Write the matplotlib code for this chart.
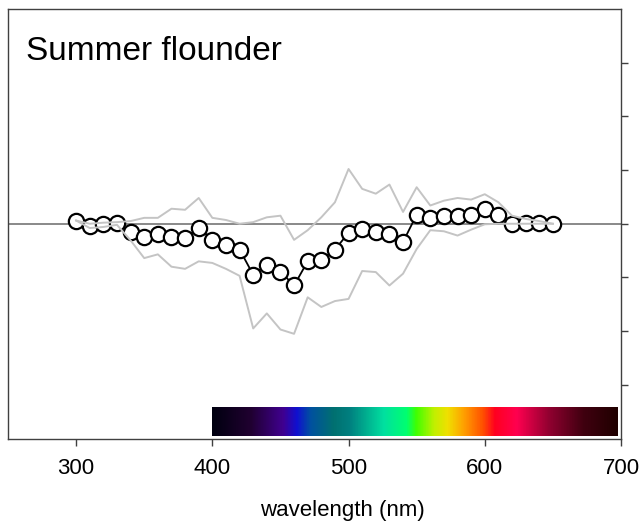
import numpy as np
import matplotlib
matplotlib.use('Agg')
import matplotlib.pyplot as plt
from matplotlib.colors import LinearSegmentedColormap

plt.rcParams['font.family'] = ['Liberation Sans', 'DejaVu Sans']

# Data
wavelength = [300, 310, 320, 330, 340, 350, 360, 370, 380, 390,
              400, 410, 420, 430, 440, 450, 460, 470, 480, 490,
              500, 510, 520, 530, 540, 550, 560, 570, 580, 590,
              600, 610, 620, 630, 640, 650]
mean = [0.06, -0.04, 0.00, 0.01, -0.15, -0.25, -0.20, -0.24, -0.27, -0.07,
        -0.30, -0.39, -0.48, -0.95, -0.76, -0.89, -1.15, -0.70, -0.67, -0.48,
        -0.17, -0.09, -0.16, -0.20, -0.34, 0.17, 0.11, 0.15, 0.14, 0.16,
        0.27, 0.17, 0.00, 0.02, 0.02, 0.00]
upper = [0.06, 0.00, 0.02, 0.03, 0.05, 0.11, 0.11, 0.28, 0.26, 0.48,
         0.11, 0.07, 0.00, 0.03, 0.12, 0.15, -0.30, -0.12, 0.12, 0.40,
         1.02, 0.65, 0.56, 0.73, 0.22, 0.68, 0.34, 0.43, 0.48, 0.45,
         0.55, 0.40, 0.15, 0.09, 0.05, 0.00]
lower = [0.06, -0.08, -0.06, -0.02, -0.31, -0.64, -0.57, -0.80, -0.84, -0.70,
         -0.73, -0.84, -0.97, -1.95, -1.67, -1.97, -2.05, -1.37, -1.55, -1.44,
         -1.40, -0.88, -0.90, -1.15, -0.93, -0.47, -0.12, -0.14, -0.22, -0.11,
         -0.01, 0.00, 0.00, 0.00, 0.00, 0.00]

# spectrum colours for the bar under the plot
spec_nm = [400, 428, 452, 462, 472, 489, 501, 526, 543, 550, 563, 573,
           585, 599, 608, 624, 648, 673, 698]
spec_col = ['#000010', '#200030', '#400090', '#1010d0', '#0050a0', '#007070',
            '#008080', '#00e0a0', '#00ff70', '#40ff00', '#c0f000', '#f0e000',
            '#ffa000', '#ff5000', '#ff0020', '#ff0050', '#900030', '#400010',
            '#200000']

fig = plt.figure(figsize=(6.41, 5.27), dpi=100)
ax = fig.add_axes([8 / 641, 1 - 438.5 / 527, 613 / 641, 429.5 / 527])

ax.axhline(0, color='#808080', lw=1.3, zorder=1)
ax.plot(wavelength, mean, color='black', lw=1.3, marker='o', ms=11,
        mfc='white', mec='black', mew=1.6, zorder=3)
ax.plot(wavelength, upper, color='#c4c4c4', lw=1.4, zorder=4)
ax.plot(wavelength, lower, color='#c4c4c4', lw=1.4, zorder=4)

# colour bar
lo, hi = spec_nm[0], spec_nm[-1]
cmap = LinearSegmentedColormap.from_list(
    'spec', [((n - lo) / (hi - lo), c) for n, c in zip(spec_nm, spec_col)])
grad = np.linspace(0, 1, 512).reshape(1, -1)
ax.imshow(grad, cmap=cmap, aspect='auto', extent=[lo, hi, -3.95, -3.42],
          zorder=2)

ax.set_xlim(250, 700)
ax.set_ylim(-4, 4)
ax.set_xticks([300, 400, 500, 600, 700])
ax.set_yticks([-3, -2, -1, 0, 1, 2, 3])
ax.yaxis.tick_right()
ax.tick_params(axis='y', labelright=False, length=5, width=1, color='#404040')
ax.tick_params(axis='x', labelsize=16, length=5, width=1, pad=9,
               color='#404040')
for s in ax.spines.values():
    s.set_color('#404040')
    s.set_linewidth(1.0)

ax.set_xlabel('wavelength (nm)', fontsize=16)
ax.xaxis.set_label_coords(0.546, -0.143)
ax.text(0.029, 0.882, 'Summer flounder', transform=ax.transAxes,
        fontsize=24, va='baseline', ha='left')

fig.savefig('out.png', dpi=100)
